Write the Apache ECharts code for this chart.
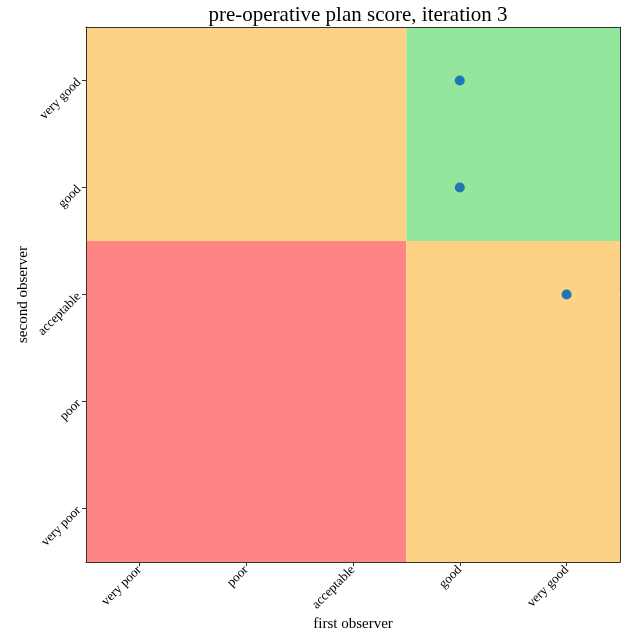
<!DOCTYPE html>
<html><head><meta charset="utf-8">
<script src="https://cdn.jsdelivr.net/npm/echarts@6/dist/echarts.min.js"></script>
<style>html,body{margin:0;padding:0;background:#fff}#c{width:621px;height:634px}</style>
</head><body><div id="c"></div>
<script>
const categories = ['very poor', 'poor', 'acceptable', 'good', 'very good'];
// regions: [x from, y from, x to, y to] as category names, with fill class
const regionX0 = ['very poor', 'good', 'very poor', 'good'];
const regionY0 = ['good', 'good', 'very poor', 'very poor'];
const regionX1 = ['acceptable', 'very good', 'acceptable', 'very good'];
const regionY1 = ['very good', 'very good', 'acceptable', 'acceptable'];
const regionColors = ['#fed285', '#93e69c', '#ff8585', '#fed285'];
const firstObserver = ['good', 'good', 'very good'];
const secondObserver = ['very good', 'good', 'acceptable'];

const idx = c => categories.indexOf(c);
const regionData = regionX0.map((x, i) => [idx(x), idx(regionY0[i]), idx(regionX1[i]), idx(regionY1[i]), i]);
const pointData = firstObserver.map((x, i) => [x, secondObserver[i]]);

const font = 'Liberation Serif';
const chart = echarts.init(document.getElementById('c'));
chart.setOption({
  animation: false,
  title: { text: 'pre-operative plan score, iteration 3', left: 353, textAlign: 'center', top: 0,
    textStyle: { fontFamily: font, fontSize: 21, fontWeight: 'normal', color: '#000' } },
  grid: { left: 86, right: 1, top: 27, bottom: 72, containLabel: false, outerBoundsMode: 'none' },
  xAxis: [{
    type: 'category', data: categories, z: 10,
    name: 'first observer', nameLocation: 'middle', nameGap: 55, nameMoveOverlap: false,
    nameTextStyle: { fontFamily: font, fontSize: 15, color: '#000' },
    axisLine: { show: true, lineStyle: { color: '#333', width: 1 } },
    axisTick: { show: true, alignWithLabel: true, length: 4, lineStyle: { color: '#333' } },
    axisLabel: { rotate: 45, fontFamily: font, fontSize: 13, color: '#000', margin: 6 },
    splitLine: { show: false }
  }, {
    type: 'category', data: categories, position: 'top', z: 10,
    axisLine: { show: true, lineStyle: { color: '#333', width: 1 } },
    axisTick: { show: false }, axisLabel: { show: false }
  }],
  yAxis: [{
    type: 'category', data: categories, z: 10,
    name: 'second observer', nameLocation: 'middle', nameGap: 55, nameMoveOverlap: false,
    nameTextStyle: { fontFamily: font, fontSize: 15, color: '#000' },
    axisLine: { show: true, lineStyle: { color: '#333', width: 1 } },
    axisTick: { show: true, alignWithLabel: true, length: 4, lineStyle: { color: '#333' } },
    axisLabel: { rotate: 45, fontFamily: font, fontSize: 13, color: '#000', margin: 7 },
    splitLine: { show: false }
  }, {
    type: 'category', data: categories, position: 'right', z: 10,
    axisLine: { show: true, lineStyle: { color: '#333', width: 1 } },
    axisTick: { show: false }, axisLabel: { show: false }
  }],
  series: [{
    type: 'custom', z: 1, silent: true,
    encode: { x: [0, 2], y: [1, 3] },
    data: regionData,
    renderItem: function (params, api) {
      const p0 = api.coord([api.value(0), api.value(3)]);
      const p1 = api.coord([api.value(2), api.value(1)]);
      const s = api.size([1, 1]);
      return {
        type: 'rect',
        shape: { x: p0[0] - s[0] / 2, y: p0[1] - s[1] / 2, width: p1[0] - p0[0] + s[0], height: p1[1] - p0[1] + s[1] },
        style: { fill: regionColors[api.value(4)] }
      };
    }
  }, {
    type: 'scatter', z: 5, symbolSize: 10,
    itemStyle: { color: '#1f77b4', opacity: 1 },
    data: pointData
  }]
});
</script></body></html>
